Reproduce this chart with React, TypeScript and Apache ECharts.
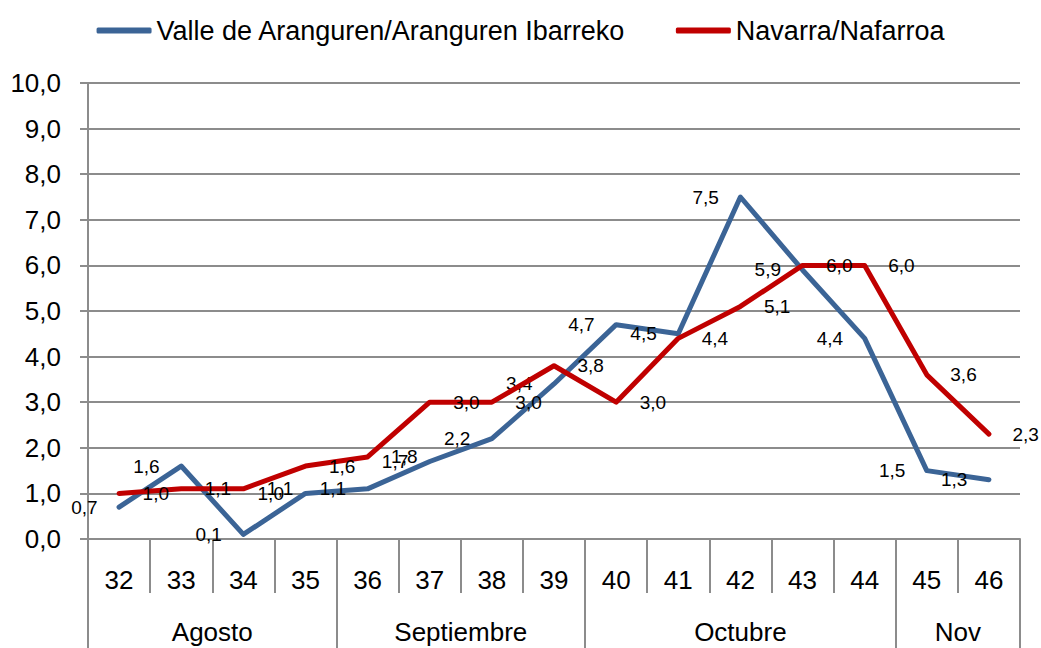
import React, { useEffect, useRef } from "react";
import * as echarts from "echarts";

const weeks = ["32", "33", "34", "35", "36", "37", "38", "39", "40", "41", "42", "43", "44", "45", "46"];
const months = ["Agosto", "Septiembre", "Octubre", "Nov"];
const monthSpans = [4, 4, 5, 2];
const valleName = "Valle de Aranguren/Aranguren Ibarreko";
const navarraName = "Navarra/Nafarroa";
const valle = [0.7, 1.6, 0.1, 1.0, 1.1, 1.7, 2.2, 3.4, 4.7, 4.5, 7.5, 5.9, 4.4, 1.5, 1.3];
const navarra = [1.0, 1.1, 1.1, 1.6, 1.8, 3.0, 3.0, 3.8, 3.0, 4.4, 5.1, 6.0, 6.0, 3.6, 2.3];

const FONT = "'Liberation Sans', Arial, sans-serif";
const fmt = (v: number) => v.toFixed(1).replace(".", ",");

// Build half-week slots for the month row: 2*weeks + 1 positions
const monthSlots: string[] = [];
const monthBoundaries = new Set<number>();
const monthCenters = new Set<number>();
(() => {
  const n = weeks.length * 2 + 1;
  for (let i = 0; i < n; i++) monthSlots.push("");
  let start = 0;
  monthBoundaries.add(0);
  months.forEach((m, i) => {
    const span = monthSpans[i];
    const center = start * 2 + span; // in half-week units
    monthSlots[center] = m;
    monthCenters.add(center);
    start += span;
    monthBoundaries.add(start * 2);
  });
})();

export default function App() {
  const ref = useRef<HTMLDivElement>(null);
  useEffect(() => {
    if (!ref.current) return;
    const chart = echarts.init(ref.current, null, { renderer: "svg" });
    const grey = "#8c8c8c";
    chart.setOption({
      animation: false,
      backgroundColor: "#ffffff",
      textStyle: { fontFamily: FONT },
      legend: {
        top: 12,
        left: "center",
        itemWidth: 55,
        itemHeight: 6,
        itemGap: 50,
        textStyle: { fontSize: 27, color: "#000", fontFamily: FONT },
        data: [
          { name: valleName, icon: "roundRect" },
          { name: navarraName, icon: "roundRect" },
        ],
      },
      grid: { left: 88, right: 21, top: 83, bottom: 109, containLabel: false },
      xAxis: [
        {
          type: "category",
          data: weeks,
          boundaryGap: true,
          axisLine: { show: true, lineStyle: { color: grey, width: 2 } },
          axisTick: { show: true, interval: 0, length: 54, lineStyle: { color: grey, width: 2 } },
          axisLabel: { interval: 0, margin: 28, fontSize: 26, color: "#000", fontFamily: FONT },
          splitLine: { show: false },
        },
        {
          type: "category",
          data: monthSlots,
          boundaryGap: false,
          position: "bottom",
          axisLine: { show: false },
          axisTick: {
            show: true,
            length: 112,
            interval: (idx: number) => monthBoundaries.has(idx),
            lineStyle: { color: grey, width: 2 },
          },
          axisLabel: {
            interval: (idx: number) => monthCenters.has(idx),
            margin: 80,
            fontSize: 26,
            color: "#000",
            fontFamily: FONT,
          },
          splitLine: { show: false },
        },
      ],
      yAxis: {
        type: "value",
        min: 0,
        max: 10,
        interval: 1,
        axisLine: { show: true, lineStyle: { color: grey, width: 2 } },
        axisTick: { show: true, length: 8, lineStyle: { color: grey, width: 2 } },
        axisLabel: { formatter: (v: number) => fmt(v), margin: 27, fontSize: 26, color: "#000", fontFamily: FONT },
        splitLine: { show: true, lineStyle: { color: grey, width: 2 } },
      },
      series: [
        {
          name: valleName,
          type: "line",
          xAxisIndex: 0,
          data: valle,
          symbol: "circle",
          symbolSize: 1,
          showSymbol: true,
          lineStyle: { color: "#3b6496", width: 5, cap: "round", join: "round" },
          itemStyle: { color: "#3b6496" },
          label: {
            show: true,
            position: "left",
            distance: 21,
            fontSize: 19,
            color: "#000",
            fontFamily: FONT,
            formatter: (p: any) => fmt(p.value),
          },
          labelLayout: { hideOverlap: false },
          z: 2,
        },
        {
          name: navarraName,
          type: "line",
          xAxisIndex: 0,
          data: navarra,
          symbol: "circle",
          symbolSize: 1,
          showSymbol: true,
          lineStyle: { color: "#c00000", width: 5, cap: "round", join: "round" },
          itemStyle: { color: "#c00000" },
          label: {
            show: true,
            position: "right",
            distance: 23,
            fontSize: 19,
            color: "#000",
            fontFamily: FONT,
            formatter: (p: any) => fmt(p.value),
          },
          labelLayout: { hideOverlap: false },
          z: 3,
        },
      ],
    });
    return () => chart.dispose();
  }, []);
  return (
    <div
      ref={ref}
      style={{ position: "fixed", left: 0, top: 0, width: 1041, height: 648, background: "#fff" }}
    />
  );
}
